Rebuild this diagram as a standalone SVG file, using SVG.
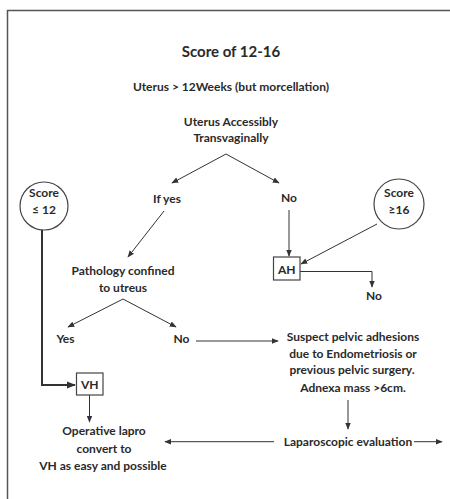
<svg xmlns="http://www.w3.org/2000/svg" width="450" height="499" viewBox="0 0 450 499">
<style>
text{font-family:Lato,"Open Sans","Liberation Sans",sans-serif;font-weight:bold;font-size:12px;fill:#2a2a2a;text-anchor:middle}
.ln{stroke:#333;stroke-width:1;fill:none}
.thick{stroke:#333;stroke-width:2;fill:none}
.box{stroke:#444;stroke-width:1.2;fill:#fff}
</style>
<defs>
<marker id="ah" viewBox="0 0 10 10" refX="9" refY="5" markerWidth="7" markerHeight="7" markerUnits="userSpaceOnUse" orient="auto"><path d="M0,1 L10,5 L0,9 z" fill="#333"/></marker>
<marker id="ahb" viewBox="0 0 10 10" refX="9" refY="5" markerWidth="9" markerHeight="9" markerUnits="userSpaceOnUse" orient="auto"><path d="M0,1 L10,5 L0,9 z" fill="#333"/></marker>
</defs>
<rect width="450" height="499" fill="#fff"/>
<path d="M7.5,499 V10.5 H450" stroke="#555" stroke-width="1.5" fill="none"/>
<g id="title"><text x="231" y="57" style="font-size:15px">Score of 12-16</text></g>
<g id="uterus12"><text x="231" y="91">Uterus &gt; 12Weeks (but morcellation)</text></g>
<g id="accessible"><text x="231" y="126">Uterus Accessibly</text><text x="231" y="142">Transvaginally</text></g>
<g id="ifyes"><text x="167" y="203">If yes</text></g>
<g id="no1"><text x="289" y="202">No</text></g>
<g id="score12"><circle cx="44" cy="206" r="24" class="box"/><text x="44" y="197">Score</text><text x="44" y="214">≤ 12</text></g>
<g id="score16"><circle cx="399" cy="204" r="25" class="box"/><text x="399" y="197">Score</text><text x="399" y="214">≥16</text></g>
<g id="pathology"><text x="123" y="275">Pathology confined</text><text x="123" y="292">to utreus</text></g>
<g id="ah-box"><rect x="273.5" y="257" width="26.5" height="23" class="box"/><text x="286.7" y="273.5">AH</text></g>
<g id="no2"><text x="374" y="300">No</text></g>
<g id="yes"><text x="65.5" y="343">Yes</text></g>
<g id="no3"><text x="181.5" y="343">No</text></g>
<g id="suspect"><text x="353" y="341">Suspect pelvic adhesions</text><text x="353" y="357.5">due to Endometriosis or</text><text x="352" y="374">previous pelvic surgery.</text><text x="353" y="391.5">Adnexa mass &gt;6cm.</text></g>
<g id="vh-box"><rect x="76.5" y="373" width="26.5" height="22" class="box"/><text x="89.7" y="389">VH</text></g>
<g id="operative"><text x="104" y="435">Operative lapro</text><text x="104" y="453">convert to</text><text x="103" y="470">VH as easy and possible</text></g>
<g id="laparoscopic"><text x="348" y="446">Laparoscopic evaluation</text></g>
<g id="connectors">
<path class="ln" d="M226,154 L172,183" marker-end="url(#ah)"/>
<path class="ln" d="M226,154 L279,183" marker-end="url(#ah)"/>
<path class="ln" d="M164,211 L128,257" marker-end="url(#ah)"/>
<path class="ln" d="M289,210 V256" marker-end="url(#ah)"/>
<path class="ln" d="M377,224 L301,264" marker-end="url(#ah)"/>
<path class="ln" d="M300,271.5 H372 V287" marker-end="url(#ah)"/>
<path class="ln" d="M123,299 L68,327" marker-end="url(#ah)"/>
<path class="ln" d="M123,299 L176,327" marker-end="url(#ah)"/>
<path class="ln" d="M196,341 H278" marker-end="url(#ah)"/>
<path class="thick" d="M42,230 V385 H75" marker-end="url(#ahb)"/>
<path class="ln" d="M89.5,395 V422" marker-end="url(#ah)"/>
<path class="ln" d="M348,400 V429" marker-end="url(#ah)"/>
<path class="ln" d="M274,441.7 H165" marker-end="url(#ah)"/>
<path class="ln" d="M414,441.7 H442" marker-end="url(#ah)"/>
</g>
</svg>
